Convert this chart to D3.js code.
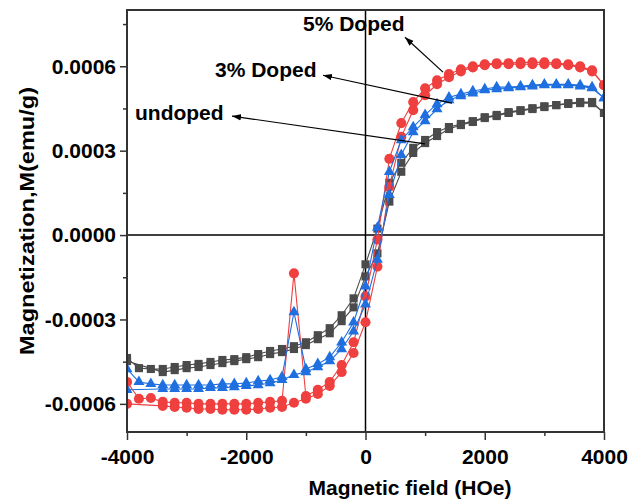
<!DOCTYPE html>
<html>
<head>
<meta charset="utf-8">
<script src="https://cdnjs.cloudflare.com/ajax/libs/d3/7.8.5/d3.min.js"></script>
<style>
    body { margin: 0; background: #fff; }
    text { font-family: "Liberation Sans", Arial, sans-serif; font-weight: bold; }
</style>
</head>
<body>
<div id="chart"></div>
<script>

// magnetic field grid (Oe)
const field = [-4000, -3800, -3600, -3400, -3200, -3000, -2800, -2600, -2400, -2200,
    -2000, -1800, -1600, -1400, -1200, -1000, -800, -600, -400, -200,
    0, 200, 400, 600, 800, 1000, 1200, 1400, 1600, 1800,
    2000, 2200, 2400, 2600, 2800, 3000, 3200, 3400, 3600, 3800, 4000];

// magnetization, in units of 1e-4 emu/g
// "Down" = branch swept from +4000 to -4000, "Up" = branch swept back
const undopedDown = [-4.37, -4.73, -4.76, -4.76, -4.69, -4.62, -4.58, -4.51, -4.44, -4.41,
    -4.34, -4.23, -4.12, -4.05, -3.95, -3.81, -3.56, -3.31, -2.85, -2.25,
    -1.04, 0.23, 1.86, 2.57, 3.10, 3.38, 3.66, 3.84, 3.95, 4.05,
    4.19, 4.27, 4.37, 4.44, 4.51, 4.58, 4.62, 4.69, 4.73, 4.73, 4.34];
const undopedUp = [-4.48, null, null, -4.87, -4.80, -4.73, -4.69, -4.62, -4.55, -4.48,
    -4.41, -4.34, -4.23, -4.16, -4.05, -3.91, -3.70, -3.49, -3.06, -2.57,
    -1.47, -0.65, 1.19, 2.25, 2.92, 3.27, 3.52, 3.77, 3.91, 4.02,
    4.16, 4.23, 4.34, 4.41, 4.48, 4.55, 4.62, 4.66, 4.69, 4.69, 4.34];

const doped3Down = [-4.76, -5.22, -5.29, -5.33, -5.33, -5.33, -5.33, -5.33, -5.29, -5.29,
    -5.26, -5.19, -5.15, -5.04, -2.74, -4.76, -4.58, -4.34, -3.81, -3.10,
    -1.82, 0.27, 2.25, 3.38, 3.84, 4.27, 4.66, 4.90, 5.01, 5.12,
    5.19, 5.26, 5.26, 5.29, 5.33, 5.36, 5.36, 5.36, 5.33, 5.26, 4.87];
const doped3Up = [-5.50, null, null, -5.47, -5.47, -5.47, -5.47, -5.43, -5.43, -5.40,
    -5.36, -5.33, -5.26, -5.15, -4.97, -4.87, -4.69, -4.48, -4.05, -3.42,
    -2.46, -0.87, 1.43, 2.85, 3.66, 4.05, 4.48, 4.80, 4.94, 5.04,
    5.15, 5.19, 5.22, 5.26, 5.29, 5.33, 5.33, 5.33, 5.29, 5.22, 4.87];

const doped5Down = [-5.22, -5.82, -5.79, -5.93, -5.96, -5.96, -6.00, -6.00, -6.00, -6.00,
    -6.00, -5.96, -5.93, -5.89, -1.36, -5.72, -5.50, -5.22, -4.62, -3.81,
    -2.18, -0.16, 2.71, 3.98, 4.73, 5.22, 5.50, 5.72, 5.89, 6.00,
    6.07, 6.11, 6.11, 6.14, 6.14, 6.14, 6.11, 6.07, 6.00, 5.86, 5.33];
const doped5Up = [-6.00, null, null, -6.07, -6.11, -6.14, -6.18, -6.18, -6.21, -6.21,
    -6.21, -6.18, -6.14, -6.11, -5.96, -5.82, -5.65, -5.36, -4.87, -4.19,
    -3.10, -1.12, 1.72, 3.49, 4.44, 4.97, 5.36, 5.61, 5.82, 5.96,
    6.04, 6.07, 6.07, 6.07, 6.07, 6.07, 6.07, 6.04, 5.96, 5.82, 5.33];

// axis ticks
const xMajor = [-4000, -2000, 0, 2000, 4000];
const xMinor = [-3000, -1000, 1000, 3000];
const yMajor = [-6, -3, 0, 3, 6];
const yMinor = [-4.5, -1.5, 1.5, 4.5, 7.5];

// annotations: label position and arrow (from, to) in data units
const labels = [
    {text: "5% Doped", h: -1048, m: 7.24, from: [1300, 5.79], to: [662, 7.03]},
    {text: "3% Doped", h: -2524, m: 5.61, from: [1450, 4.69], to: [-713, 5.68]},
    {text: "undoped",  h: -3866, m: 4.09, from: [998, 3.24], to: [-2239, 4.23]}
];

const series = [
    {name: "undoped",  color: "#4b4b4b", shape: d3.symbolSquare,   size: 66, down: undopedDown, up: undopedUp},
    {name: "5% Doped", color: "#ef3f3f", shape: d3.symbolCircle,   size: 80, down: doped5Down,  up: doped5Up},
    {name: "3% Doped", color: "#1f6fe0", shape: d3.symbolTriangle, size: 52, down: doped3Down,  up: doped3Up}
];

const W = 628, H = 501;
const margin = {top: 10, right: 24, bottom: 69, left: 127};
const width = W - margin.left - margin.right;
const height = H - margin.top - margin.bottom;

const svg = d3.select("#chart").append("svg")
    .attr("width", W)
    .attr("height", H);

svg.append("defs").append("clipPath")
    .attr("id", "plot-clip")
    .append("rect")
    .attr("width", width)
    .attr("height", height);

svg.select("defs").append("marker")
    .attr("id", "arrow")
    .attr("viewBox", "0 0 10 10")
    .attr("refX", 10)
    .attr("refY", 5)
    .attr("markerWidth", 9)
    .attr("markerHeight", 9)
    .attr("markerUnits", "userSpaceOnUse")
    .attr("orient", "auto")
    .append("path")
    .attr("d", "M0,1.5 L10,5 L0,8.5 Z")
    .attr("fill", "#000");

const g = svg.append("g")
    .attr("transform", "translate(" + margin.left + "," + margin.top + ")");

const x = d3.scaleLinear().domain([-4000, 4000]).range([0, width]);
const y = d3.scaleLinear().domain([-7, 8]).range([height, 0]);

// zero lines
g.append("line")
    .attr("x1", 0).attr("x2", width)
    .attr("y1", y(0)).attr("y2", y(0))
    .attr("stroke", "#000").attr("stroke-width", 1.5);
g.append("line")
    .attr("x1", x(0)).attr("x2", x(0))
    .attr("y1", 0).attr("y2", height)
    .attr("stroke", "#000").attr("stroke-width", 1.5);

// data
const plot = g.append("g").attr("clip-path", "url(#plot-clip)");

const line = d3.line()
    .x(d => x(d.h))
    .y(d => y(d.m));

series.forEach(s => {
    let down = field.map((h, i) => ({h: h, m: s.down[i]})).reverse();
    let up = field.map((h, i) => ({h: h, m: s.up[i]}));
    let pts = down.concat(up).filter(d => d.m !== null);

    plot.append("path")
        .datum(pts)
        .attr("fill", "none")
        .attr("stroke", s.color)
        .attr("stroke-width", 1.1)
        .attr("d", line);

    plot.selectAll(null)
        .data(pts)
        .enter().append("path")
        .attr("transform", d => "translate(" + x(d.h) + "," + y(d.m) + ")")
        .attr("d", d3.symbol().type(s.shape).size(s.size))
        .attr("fill", s.color);
});

// axes
const xAxis = g.append("g")
    .attr("transform", "translate(0," + height + ")")
    .call(d3.axisBottom(x).tickValues(xMajor).tickSize(8).tickPadding(9).tickSizeOuter(0)
        .tickFormat(d => d));
const xAxisMinor = g.append("g")
    .attr("transform", "translate(0," + height + ")")
    .call(d3.axisBottom(x).tickValues(xMinor).tickSize(4).tickSizeOuter(0).tickFormat(""));

const yAxis = g.append("g")
    .call(d3.axisLeft(y).tickValues(yMajor).tickSize(7).tickPadding(4).tickSizeOuter(0)
        .tickFormat(d => (d * 1e-4).toFixed(4)));
const yAxisMinor = g.append("g")
    .call(d3.axisLeft(y).tickValues(yMinor).tickSize(4).tickSizeOuter(0).tickFormat(""));

[xAxis, xAxisMinor, yAxis, yAxisMinor].forEach(a => {
    a.select(".domain").remove();
    a.selectAll(".tick line").attr("stroke", "#333").attr("stroke-width", 1.5);
    a.selectAll(".tick text")
        .attr("fill", "#000")
        .style("font-size", "21px")
        .style("font-family", "'Liberation Sans', Arial, sans-serif")
        .style("font-weight", "bold");
});

// frame
g.append("rect")
    .attr("width", width)
    .attr("height", height)
    .attr("fill", "none")
    .attr("stroke", "#333")
    .attr("stroke-width", 2);

// annotations
labels.forEach(l => {
    g.append("line")
        .attr("x1", x(l.from[0])).attr("y1", y(l.from[1]))
        .attr("x2", x(l.to[0])).attr("y2", y(l.to[1]))
        .attr("stroke", "#000")
        .attr("stroke-width", 1.2)
        .attr("marker-end", "url(#arrow)");
    g.append("text")
        .attr("x", x(l.h))
        .attr("y", y(l.m))
        .style("font-size", "21px")
        .text(l.text);
});

// axis titles
svg.append("text")
    .attr("x", 410)
    .attr("y", 495)
    .attr("text-anchor", "middle")
    .style("font-size", "21px")
    .text("Magnetic field (HOe)");

svg.append("text")
    .attr("transform", "translate(34," + (margin.top + y(0.5)) + ") rotate(-90)")
    .attr("text-anchor", "middle")
    .attr("textLength", 268)
    .attr("lengthAdjust", "spacingAndGlyphs")
    .style("font-size", "21px")
    .text("Magnetization,M(emu/g)");

</script>
</body>
</html>
